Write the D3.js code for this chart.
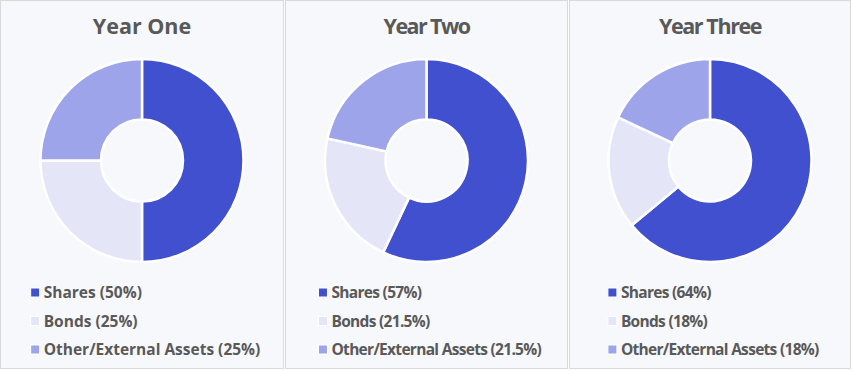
<!DOCTYPE html>
<html>
<head>
<meta charset="utf-8">
<script src="https://cdn.jsdelivr.net/npm/d3@7"></script>
<style>
  body { margin: 0; background: #ffffff; }
  svg { display: block; font-family: "Open Sans", sans-serif; }
</style>
</head>
<body>
<script>
const years = ["Year One", "Year Two", "Year Three"];
const categories = ["Shares", "Bonds", "Other/External Assets"];
const shares = [50, 57, 64];
const bonds = [25, 21.5, 18];
const other = [25, 21.5, 18];
const colors = ["#4150ce", "#e4e6f8", "#9da4ea"];

const W = 852, H = 371;
// panel boxes + text tracking (the 2nd and 3rd panels are set tighter)
const panels = [
    {x: 0.5, w: 283, titleLs: 0, legendLs: 0},
    {x: 285.5, w: 282, titleLs: -1.6, legendLs: -0.7},
    {x: 569.5, w: 281, titleLs: -1.4, legendLs: -0.7}
];

const svg = d3.select("body").append("svg")
    .attr("width", W)
    .attr("height", H);

const color = d3.scaleOrdinal().domain(categories).range(colors);

const pie = d3.pie().sort(null).value(d => d.value);
const arc = d3.arc().innerRadius(41).outerRadius(101.5);

years.forEach((year, i) => {
    const p = panels[i];
    const data = [
        {cat: categories[0], value: shares[i]},
        {cat: categories[1], value: bonds[i]},
        {cat: categories[2], value: other[i]}
    ];

    const g = svg.append("g").attr("transform", "translate(" + p.x + ",0.5)");

    g.append("rect")
        .attr("width", p.w)
        .attr("height", 368)
        .attr("fill", "#f7f8fc")
        .attr("stroke", "#d9d9d9")
        .attr("stroke-width", 1);

    g.append("text")
        .attr("x", p.w / 2)
        .attr("y", 33)
        .attr("text-anchor", "middle")
        .attr("fill", "#595959")
        .attr("font-size", 21.5)
        .attr("font-weight", 700)
        .attr("letter-spacing", p.titleLs)
        .text(year);

    const cx = p.w / 2;
    const donut = g.append("g").attr("transform", "translate(" + cx + ",160)");
    donut.selectAll("path")
        .data(pie(data))
        .enter()
        .append("path")
        .attr("d", arc)
        .attr("fill", d => color(d.data.cat))
        .attr("stroke", "#ffffff")
        .attr("stroke-width", 2.5);

    const legend = g.append("g");
    const rows = legend.selectAll("g.row")
        .data(data)
        .enter()
        .append("g")
        .attr("class", "row")
        .attr("transform", (d, j) => "translate(0," + (292 + j * 28.5) + ")");

    rows.append("rect")
        .attr("x", 0)
        .attr("y", -4.5)
        .attr("width", 9)
        .attr("height", 9)
        .attr("fill", d => color(d.cat))
        .attr("stroke", "#ffffff")
        .attr("stroke-width", 1);

    rows.append("text")
        .attr("x", 13)
        .attr("y", 5.5)
        .attr("fill", "#595959")
        .attr("font-size", 15.5)
        .attr("font-weight", 700)
        .attr("letter-spacing", p.legendLs)
        .text(d => d.cat + " (" + d.value + "%)");

    const bb = legend.node().getBBox();
    legend.attr("transform", "translate(" + (p.w / 2 - bb.width / 2 + 3.5) + ",0)");
});
</script>
</body>
</html>
